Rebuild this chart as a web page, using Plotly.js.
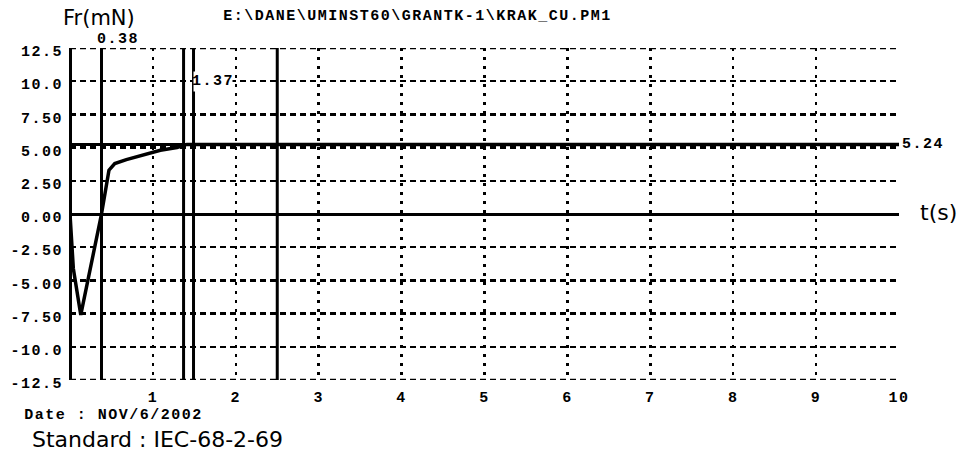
<!DOCTYPE html>
<html>
<head>
<meta charset="utf-8">
<script src="https://cdn.plot.ly/plotly-3.0.1.min.js"></script>
<style>
  html, body { margin: 0; padding: 0; background: #fff; }
  #chart { width: 960px; height: 454px; }
  /* the instrument printout uses a widely spaced bold mono face */
  #chart text[style*="Liberation Mono"] { letter-spacing: 1.5px; }
</style>
</head>
<body>
<div id="chart"></div>
<script>
// Friction force record, time in seconds, force in mN
const timeS   = [0, 0.04, 0.13, 0.38, 0.47, 0.54, 0.68, 0.93, 1.09, 1.29, 1.41, 10];
const forceMN = [0, -4.1, -7.6, 0.0, 3.3, 3.8, 4.1, 4.5, 4.8, 5.0, 5.24, 5.24];

// Cursor positions (s) and the steady-state level (mN)
const cursorTimes = [0.38, 1.37, 1.49, 2.5];
const cursorLabels = ["0.38", "1.37"];
const levelValue = 5.24;
const levelLabel = "5.24";

// Axes
const xRange = [0, 10];
const yRange = [-12.5, 12.5];
const xTickVals = [1, 2, 3, 4, 5, 6, 7, 8, 9, 10];
const xTickText = ["1", "2", "3", "4", "5", "6", "7", "8", "9", "10"];
const yTickVals = [-12.5, -10, -7.5, -5, -2.5, 0, 2.5, 5, 7.5, 10, 12.5];
const yTickText = ["-12.5", "-10.0", "-7.50", "-5.00", "-2.50", "0.00", "2.50", "5.00", "7.50", "10.0", "12.5"];

const fileName = "E:\\DANE\\UMINST60\\GRANTK-1\\KRAK_CU.PM1";
const dateText = "Date : NOV/6/2002";
const standardText = "Standard : IEC-68-2-69";
const yTitle = "Fr(mN)";
const xTitle = "t(s)";

const mono = { family: "Liberation Mono", size: 15, color: "#000", weight: "bold" };
const sans = { family: "DejaVu Sans", color: "#000" };

// plot area in page pixels, used to place free text
const L = 70, R = 899, T = 48, B = 380;
const px = x => (x - L) / (R - L);
const py = y => (B - y) / (B - T);

const traces = [];

// vertical cursor lines
cursorTimes.forEach(t => {
  traces.push({
    x: [t, t], y: yRange, mode: "lines",
    line: { color: "#000", width: 3 }, hoverinfo: "skip", showlegend: false
  });
});

// steady-state level line
traces.push({
  x: xRange, y: [levelValue, levelValue], mode: "lines",
  line: { color: "#000", width: 3 }, hoverinfo: "skip", showlegend: false
});

// force curve
traces.push({
  x: timeS, y: forceMN, mode: "lines",
  line: { color: "#000", width: 3.5 }, hoverinfo: "skip", showlegend: false
});

// dashed frame on top and bottom, same style as the horizontal grid
const gridDashY = "6px,4px";
const shapes = yRange.map(v => ({
  type: "line", xref: "x", yref: "y", x0: xRange[0], x1: xRange[1], y0: v, y1: v,
  line: { color: "#000", width: 2.5, dash: gridDashY }, layer: "below"
}));

// mono texts are centred, so the extra letter spacing spreads evenly
const annotations = [
  { text: yTitle, xref: "paper", yref: "paper", x: px(99), y: py(18), xanchor: "center", yanchor: "middle",
    showarrow: false, font: Object.assign({ size: 21 }, sans) },
  { text: fileName, xref: "paper", yref: "paper", x: px(417), y: py(17), xanchor: "center", yanchor: "middle",
    showarrow: false, font: mono },
  { text: xTitle, xref: "paper", yref: "paper", x: px(918), y: py(212), xanchor: "left", yanchor: "middle",
    showarrow: false, font: Object.assign({ size: 22 }, sans) },
  { text: dateText, xref: "paper", yref: "paper", x: px(113), y: py(415), xanchor: "center", yanchor: "middle",
    showarrow: false, font: mono },
  { text: standardText, xref: "paper", yref: "paper", x: px(30), y: py(439), xanchor: "left", yanchor: "middle",
    showarrow: false, font: Object.assign({ size: 22 }, sans) },
  // cursor readouts
  { text: cursorLabels[0], xref: "x", yref: "paper", x: cursorTimes[0], y: py(40), xanchor: "center", yanchor: "middle",
    xshift: 16, showarrow: false, font: mono },
  { text: cursorLabels[1], xref: "x", yref: "y", x: cursorTimes[2], y: 10, xanchor: "center", yanchor: "middle",
    xshift: 19, showarrow: false, font: mono, bgcolor: "#fff" },
  { text: levelLabel, xref: "paper", yref: "y", x: 1, y: levelValue, xanchor: "center", yanchor: "middle",
    xshift: 24, showarrow: false, font: mono }
];

const layout = {
  width: 960, height: 454,
  margin: { l: L, r: 960 - R, t: T, b: 454 - B, pad: 0 },
  paper_bgcolor: "#fff", plot_bgcolor: "#fff",
  showlegend: false,
  xaxis: {
    range: xRange, tickvals: xTickVals, ticktext: xTickText,
    showgrid: true, gridcolor: "#000", gridwidth: 2.5, griddash: "3px,6px",
    zeroline: true, zerolinecolor: "#000", zerolinewidth: 3,
    showline: false, ticks: "", tickfont: mono, ticklabelstandoff: 6,
    fixedrange: true
  },
  yaxis: {
    range: yRange, tickvals: yTickVals, ticktext: yTickText,
    showgrid: true, gridcolor: "#000", gridwidth: 2.5, griddash: gridDashY,
    zeroline: true, zerolinecolor: "#000", zerolinewidth: 3,
    showline: false, ticks: "", tickfont: mono, ticklabelstandoff: 6, ticklabelshift: 3,
    fixedrange: true
  },
  shapes: shapes,
  annotations: annotations
};

Plotly.newPlot("chart", traces, layout, { staticPlot: true, displayModeBar: false });
</script>
</body>
</html>
